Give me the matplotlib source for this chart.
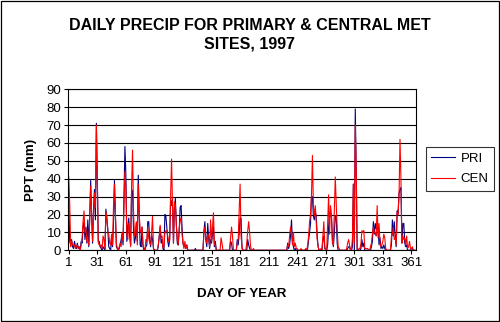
import numpy as np
import matplotlib
matplotlib.use("Agg")
import matplotlib.pyplot as plt

# days of 1997 with rain at either site (all other days are 0 mm)
rain_days = [
    1, 2, 3, 4, 5, 6, 7, 8, 9, 10, 11, 12, 14, 15, 16, 17, 18, 19, 20, 21, 22, 23, 24, 25, 26, 27, 28, 29, 30,
    31, 32, 33, 34, 35, 36, 37, 38, 39, 40, 41, 42, 43, 44, 45, 46, 47, 48, 49, 50, 51, 52, 54, 55, 56, 57, 58, 59,
    60, 61, 62, 63, 64, 65, 66, 67, 68, 69, 70, 71, 72, 73, 74, 75, 76, 77, 78, 79, 80, 82, 83, 84, 85, 86, 87, 88,
    89, 90, 95, 96, 97, 98, 99, 100, 101, 102, 103, 104, 105, 106, 107, 108, 109, 110, 111, 112, 113, 114, 115,
    116, 117, 118, 119, 120, 121, 122, 123, 124, 125, 134, 143, 144, 145, 146, 147, 148, 149, 150, 151, 152, 153,
    154, 155, 161, 162, 171, 172, 173, 178, 179, 180, 181, 182, 183, 188, 189, 190, 191, 192, 195,
    231, 232, 233, 234, 235, 236, 237, 238, 239, 240, 241, 245, 250, 252, 253, 254, 255, 256, 257, 258, 259, 260,
    261, 262, 263, 266, 268, 269, 270, 273, 274, 275, 276, 277, 278, 279, 280, 281, 282, 283, 284, 285, 293, 294,
    295, 296, 299, 300, 301, 302, 303, 304, 306, 307, 308, 309, 310, 311, 312, 313, 314, 315, 318, 319, 320, 321,
    322, 323, 324, 325, 326, 327, 328, 329, 330, 331, 332, 333, 334, 340, 341, 342, 343, 344, 345, 346, 347, 348,
    349, 350, 351, 352, 353, 354, 355, 356, 357, 358, 359, 360, 361, 362,
]
pri_mm = [
    29, 5, 3, 6, 2, 1, 5, 2, 1, 4, 1, 2, 5, 4, 13, 16, 6, 13, 4, 17, 2, 19, 39, 19, 4, 23, 34, 17, 71,
    38, 5, 5, 2, 1, 0, 2, 1, 0, 23, 18, 12, 2, 1, 0, 7, 2, 15, 39, 19, 2, 1, 1, 3, 6, 9, 3, 29,
    58, 42, 5, 13, 18, 8, 3, 34, 33, 12, 4, 7, 15, 5, 42, 21, 3, 2, 13, 2, 0, 2, 3, 16, 16, 6, 2, 9,
    6, 1, 2, 8, 13, 4, 6, 1, 0, 20, 19, 13, 5, 2, 6, 28, 25, 29, 4, 24, 29, 15, 4,
    3, 11, 24, 25, 13, 4, 2, 3, 1, 3, 1, 11, 16, 6, 2, 15, 6, 1, 6, 4, 9, 13,
    2, 5, 0, 0, 5, 4, 0, 6, 3, 9, 18, 18, 1, 0, 6, 3, 1, 0, 0,
    4, 1, 3, 8, 17, 5, 2, 0, 1, 0, 0, 0, 0, 1, 6, 10, 15, 30, 30, 19, 17, 22,
    19, 8, 2, 0, 6, 8, 1, 3, 13, 21, 19, 19, 6, 2, 10, 19, 19, 4, 0, 0, 0, 1,
    2, 2, 2, 37, 0, 79, 46, 0, 0, 0, 1, 6, 2, 4, 0, 0, 0, 0, 0, 2, 5, 16,
    9, 15, 12, 13, 11, 3, 7, 1, 2, 1, 3, 1, 0, 3, 17, 8, 16, 8, 2, 22, 21, 32,
    34, 35, 4, 15, 15, 4, 2, 3, 0, 0, 0, 0, 1, 1,
]
cen_mm = [
    41, 26, 2, 5, 3, 3, 3, 1, 2, 3, 1, 2, 3, 7, 16, 22, 10, 12, 5, 5, 3, 17, 36, 20, 5, 18, 32, 24, 70,
    40, 4, 3, 2, 3, 1, 8, 6, 1, 21, 18, 10, 9, 4, 3, 9, 3, 25, 37, 21, 4, 1, 2, 4, 2, 10, 5, 24,
    44, 35, 9, 6, 15, 10, 2, 36, 56, 22, 8, 10, 16, 3, 37, 21, 11, 10, 13, 3, 1, 6, 5, 13, 7, 4, 3, 10,
    19, 1, 3, 7, 14, 7, 8, 1, 2, 10, 11, 11, 8, 5, 6, 31, 51, 24, 4, 27, 25, 14, 6,
    3, 12, 17, 18, 9, 4, 1, 5, 1, 3, 0, 10, 13, 6, 4, 9, 8, 2, 17, 5, 13, 21,
    3, 3, 7, 4, 7, 13, 8, 4, 6, 22, 37, 8, 2, 4, 11, 16, 10, 2, 1,
    3, 2, 8, 13, 10, 3, 10, 2, 4, 1, 1, 1, 1, 3, 8, 16, 20, 31, 53, 25, 19, 25,
    16, 6, 2, 1, 8, 16, 2, 15, 31, 9, 25, 20, 4, 3, 21, 41, 26, 12, 2, 1, 1, 4,
    6, 3, 6, 37, 4, 70, 45, 1, 1, 1, 4, 11, 10, 11, 1, 1, 1, 1, 2, 4, 9, 13,
    10, 10, 8, 25, 7, 15, 4, 2, 3, 5, 9, 7, 1, 8, 9, 13, 6, 7, 3, 21, 20, 31,
    62, 40, 4, 8, 6, 7, 3, 8, 1, 2, 5, 1, 1, 2,
]

day_ticks = list(range(1, 362, 30))
ppt_ticks = list(range(0, 91, 10))


def fullYear(days, values):
    series = np.zeros(365)
    for d, v in zip(days, values):
        series[d - 1] = v
    return series


def drawChart(pri, cen):
    plt.rcParams['font.family'] = ['Liberation Sans', 'DejaVu Sans']
    fig = plt.figure(figsize=(5.0, 3.22), dpi=100)
    ax = fig.add_axes([0.1366, 0.2227, 0.6948, 0.5])

    days = np.arange(1, 366)
    ax.plot(days, pri, color='#000080', lw=0.8, label='PRI')
    ax.plot(days, cen, color='#ff0000', lw=0.8, label='CEN')

    ax.set_xlim(0.5, 365.5)
    ax.set_ylim(0, 90)
    ax.set_xticks(day_ticks)
    ax.set_yticks(ppt_ticks)
    ax.tick_params(labelsize=9.5, length=3, width=0.8, pad=2, color='black')
    ax.yaxis.grid(True, color='black', lw=0.8)
    ax.set_axisbelow(True)
    for s in ax.spines.values():
        s.set_linewidth(0.8)

    fig.text(0.5, 1 - 35 / 322, 'DAILY PRECIP FOR PRIMARY & CENTRAL MET\nSITES, 1997',
             ha='center', va='center', fontsize=11.5, fontweight='bold', linespacing=1.25)
    fig.text(0.062, 1 - 170 / 322, 'PPT (mm)', rotation=90, ha='center', va='center',
             fontsize=9.6, fontweight='bold')
    fig.text(0.484, 1 - 294 / 322, 'DAY OF YEAR', ha='center', va='center',
             fontsize=9.6, fontweight='bold')

    leg = fig.legend(loc='upper left', bbox_to_anchor=(0.852, 0.543), fontsize=9.5,
                     frameon=True, fancybox=False, handlelength=1.75, labelspacing=0.64,
                     borderpad=0.41, handletextpad=0.45, borderaxespad=0)
    leg.get_frame().set_edgecolor('black')
    leg.get_frame().set_linewidth(0.8)

    fig.add_artist(plt.Rectangle((0.002, 0.003), 0.995, 0.994, transform=fig.transFigure,
                                 fill=False, ec='black', lw=0.9))

    fig.savefig('out.png', dpi=100)


def main():
    pri = fullYear(rain_days, pri_mm)
    cen = fullYear(rain_days, cen_mm)
    drawChart(pri, cen)


if __name__ == "__main__":
    main()
